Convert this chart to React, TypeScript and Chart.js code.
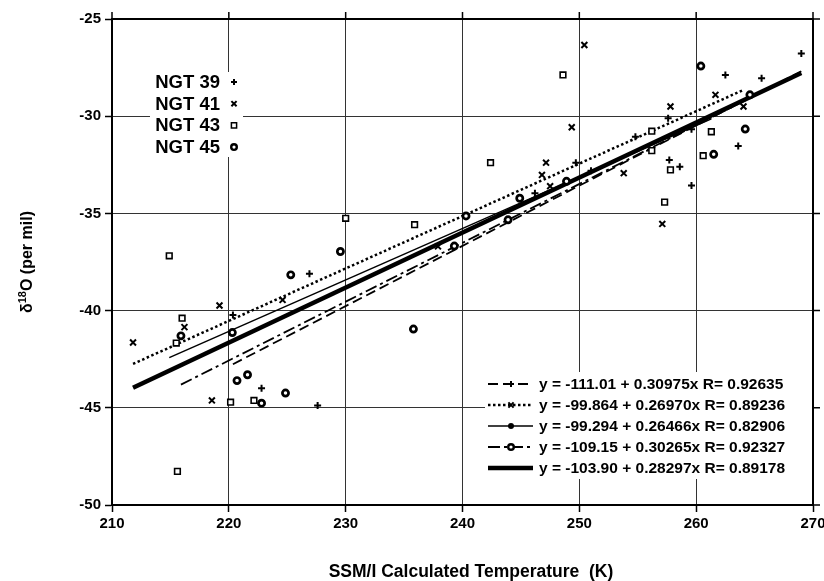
import React, { useEffect, useRef } from "react";
import { Chart, registerables } from "chart.js";

Chart.register(...registerables);

const FONT = '"Liberation Sans", Arial, Helvetica, sans-serif';

// ---- data ----
const xTicks = [210, 220, 230, 240, 250, 260, 270];
const yTicks = [-25, -30, -35, -40, -45, -50];

const seriesNames = ["NGT 39", "NGT 41", "NGT 43", "NGT 45"];

const ngt39X = [220.35, 222.8, 226.9, 227.6, 246.2, 249.7, 251.0, 254.8, 257.6, 257.7, 258.6, 259.6, 259.6, 262.5, 263.6, 265.6, 269.0];
const ngt39Y = [-40.22, -43.99, -38.1, -44.88, -33.96, -32.4, -32.8, -31.06, -30.1, -32.25, -32.6, -30.67, -33.57, -27.88, -31.53, -28.05, -26.77];

const ngt41X = [211.8, 216.2, 218.55, 219.2, 224.6, 237.9, 246.8, 247.15, 247.5, 249.35, 250.43, 253.8, 257.1, 257.8, 261.65, 264.05];
const ngt41Y = [-41.64, -40.85, -44.62, -39.74, -39.45, -36.7, -33.02, -32.39, -33.6, -30.57, -26.34, -32.93, -35.54, -29.5, -28.9, -29.5];

const ngt43X = [214.9, 215.5, 215.6, 216.0, 220.15, 222.15, 230.0, 235.9, 242.4, 248.6, 256.2, 256.2, 257.3, 257.8, 260.6, 261.3];
const ngt43Y = [-37.18, -41.67, -48.27, -40.39, -44.71, -44.62, -35.25, -35.58, -32.39, -27.88, -30.77, -31.77, -34.42, -32.76, -32.03, -30.8];

const ngt45X = [215.9, 220.3, 220.7, 221.6, 222.8, 224.85, 225.3, 229.55, 235.8, 239.3, 240.3, 243.9, 244.9, 248.9, 260.4, 261.5, 264.2, 264.6];
const ngt45Y = [-41.3, -41.13, -43.6, -43.3, -44.76, -44.24, -38.16, -36.96, -40.95, -36.68, -35.13, -35.33, -34.22, -33.35, -27.42, -31.96, -30.66, -28.9];

// regression fits (NGT 39, NGT 41, NGT 43, NGT 45, all)
const fitIntercepts = ["-111.01", "-99.864", "-99.294", "-109.15", "-103.90"];
const fitSlopes = ["0.30975", "0.26970", "0.26466", "0.30265", "0.28297"];
const fitR = ["0.92635", "0.89236", "0.82906", "0.92327", "0.89178"];

const xTitle = "SSM/I Calculated Temperature  (K)";
const yTitleParts = ["δ", "18", "O (per mil)"];

// ---- helpers ----
const seriesX = [ngt39X, ngt41X, ngt43X, ngt45X];
const seriesY = [ngt39Y, ngt41Y, ngt43Y, ngt45Y];
const allX = ([] as number[]).concat(ngt39X, ngt41X, ngt43X, ngt45X);
const fitRanges = [...seriesX, allX].map((xs) => [Math.min(...xs), Math.max(...xs)]);

const toPts = (xs: number[], ys: number[]) => xs.map((x, i) => ({ x, y: ys[i] }));

const fitLine = (i: number) => {
  const a = parseFloat(fitIntercepts[i]);
  const b = parseFloat(fitSlopes[i]);
  const [x0, x1] = fitRanges[i];
  return [
    { x: x0, y: a + b * x0 },
    { x: x1, y: a + b * x1 },
  ];
};

const lineStyles = [
  { dash: [10, 5], width: 1.8 },
  { dash: [2.5, 2.5], width: 2.5 },
  { dash: [], width: 1.5 },
  { dash: [12, 4, 3, 4], width: 1.8 },
  { dash: [], width: 4.5 },
];

function marker(ctx: CanvasRenderingContext2D, kind: string, x: number, y: number) {
  ctx.save();
  ctx.setLineDash([]);
  ctx.strokeStyle = "#000";
  ctx.fillStyle = "#fff";
  ctx.beginPath();
  if (kind === "cross") {
    ctx.lineWidth = 2;
    ctx.moveTo(x - 3, y);
    ctx.lineTo(x + 3, y);
    ctx.moveTo(x, y - 3);
    ctx.lineTo(x, y + 3);
    ctx.stroke();
  } else if (kind === "crossRot") {
    ctx.lineWidth = 2;
    ctx.moveTo(x - 2.6, y - 2.6);
    ctx.lineTo(x + 2.6, y + 2.6);
    ctx.moveTo(x + 2.6, y - 2.6);
    ctx.lineTo(x - 2.6, y + 2.6);
    ctx.stroke();
  } else if (kind === "rect") {
    ctx.lineWidth = 1.5;
    ctx.rect(x - 2.6, y - 2.6, 5.2, 5.2);
    ctx.fill();
    ctx.stroke();
  } else if (kind === "circle") {
    ctx.lineWidth = 2.4;
    ctx.arc(x, y, 2.8, 0, Math.PI * 2);
    ctx.fill();
    ctx.stroke();
  } else if (kind === "dot") {
    ctx.fillStyle = "#000";
    ctx.arc(x, y, 3, 0, Math.PI * 2);
    ctx.fill();
  }
  ctx.restore();
}

const overlay = {
  id: "overlay",
  afterDraw(chart: any) {
    const ctx: CanvasRenderingContext2D = chart.ctx;
    const xs = chart.scales.x;
    const ys = chart.scales.y;
    const { left, right, top, bottom } = chart.chartArea;
    ctx.save();

    // top / right frame with outward ticks
    ctx.strokeStyle = "#000";
    ctx.lineWidth = 2;
    ctx.beginPath();
    ctx.moveTo(left - 1, top);
    ctx.lineTo(right, top);
    ctx.lineTo(right, bottom + 1);
    ctx.stroke();
    ctx.lineWidth = 1.5;
    ctx.beginPath();
    xTicks.forEach((v) => {
      const px = xs.getPixelForValue(v);
      ctx.moveTo(px, top);
      ctx.lineTo(px, top - 7);
    });
    yTicks.forEach((v) => {
      const py = ys.getPixelForValue(v);
      ctx.moveTo(right, py);
      ctx.lineTo(right + 7, py);
    });
    ctx.stroke();

    // top-left legend
    ctx.fillStyle = "#fff";
    ctx.fillRect(150, 72, 93, 85);
    ctx.fillStyle = "#000";
    ctx.font = `bold 18.5px ${FONT}`;
    ctx.textAlign = "right";
    ctx.textBaseline = "middle";
    const kinds = ["cross", "crossRot", "rect", "circle"];
    seriesNames.forEach((n, i) => {
      const yy = 82 + i * 21.7;
      ctx.fillStyle = "#000";
      ctx.fillText(n, 220, yy + 1);
      marker(ctx, kinds[i], 234, yy);
    });

    // bottom-right fit legend
    ctx.fillStyle = "#fff";
    ctx.fillRect(485, 372, right - 486, 107);
    ctx.font = `bold 15.5px ${FONT}`;
    ctx.textAlign = "left";
    const legendMarkers = ["cross", "crossRot", "dot", "circle", ""];
    fitIntercepts.forEach((a, i) => {
      const yy = 384 + i * 21;
      const st = lineStyles[i];
      ctx.save();
      ctx.strokeStyle = "#000";
      ctx.lineWidth = st.width;
      ctx.setLineDash(st.dash);
      ctx.beginPath();
      ctx.moveTo(488, yy);
      ctx.lineTo(533, yy);
      ctx.stroke();
      ctx.restore();
      if (legendMarkers[i]) marker(ctx, legendMarkers[i], 511, yy);
      ctx.fillStyle = "#000";
      ctx.fillText(`y = ${a} + ${fitSlopes[i]}x R= ${fitR[i]}`, 539, yy + 1);
    });

    // x axis title
    ctx.font = `bold 17.5px ${FONT}`;
    ctx.textAlign = "center";
    ctx.textBaseline = "alphabetic";
    ctx.fillText(xTitle, 471, 577);

    // y axis title (rotated, with superscript)
    ctx.save();
    ctx.translate(32, 262);
    ctx.rotate(-Math.PI / 2);
    const big = `bold 16px ${FONT}`;
    const small = `bold 11px ${FONT}`;
    ctx.font = big;
    const w1 = ctx.measureText(yTitleParts[0]).width;
    const w3 = ctx.measureText(yTitleParts[2]).width;
    ctx.font = small;
    const w2 = ctx.measureText(yTitleParts[1]).width;
    const start = -(w1 + w2 + w3) / 2;
    ctx.textAlign = "left";
    ctx.font = big;
    ctx.fillText(yTitleParts[0], start, 0);
    ctx.font = small;
    ctx.fillText(yTitleParts[1], start + w1, -6);
    ctx.font = big;
    ctx.fillText(yTitleParts[2], start + w1 + w2, 0);
    ctx.restore();

    ctx.restore();
  },
};

export default function App() {
  const ref = useRef<HTMLCanvasElement | null>(null);

  useEffect(() => {
    if (!ref.current) return;
    const pointStyles = ["cross", "crossRot", "rect", "circle"];
    const radii = [3.5, 4.2, 4, 3.1];
    const bws = [2, 2, 1.6, 2.7];
    const scatterSets = seriesNames.map((n, i) => ({
      label: n,
      data: toPts(seriesX[i], seriesY[i]),
      showLine: false,
      pointStyle: pointStyles[i],
      pointRadius: radii[i],
      pointBorderWidth: bws[i],
      pointBorderColor: "#000",
      pointBackgroundColor: "#fff",
      borderColor: "#000",
      backgroundColor: "#fff",
    }));
    const lineSets = fitIntercepts.map((_, i) => ({
      label: `fit ${i}`,
      data: fitLine(i),
      showLine: true,
      pointRadius: 0,
      borderColor: "#000",
      borderWidth: lineStyles[i].width,
      borderDash: lineStyles[i].dash,
      borderCapStyle: "butt",
      fill: false,
    }));

    const tickFont = { family: FONT, size: 15, weight: "bold" as const };
    const chart = new Chart(ref.current, {
      type: "scatter",
      data: { datasets: [...scatterSets, ...lineSets] as any },
      options: {
        responsive: false,
        animation: false,
        layout: { padding: { top: 19, right: 11, left: 0, bottom: 0 } },
        plugins: { legend: { display: false }, tooltip: { enabled: false } },
        scales: {
          x: {
            type: "linear",
            min: 210,
            max: 270,
            afterFit: (s: any) => {
              s.height = 76;
              s.paddingLeft = 0;
              s.paddingRight = 0;
            },
            ticks: { stepSize: 10, color: "#000", font: tickFont, padding: 3, maxRotation: 0 },
            grid: { color: "#333", lineWidth: 1, tickLength: 7, tickColor: "#000", tickWidth: 1.5 },
            border: { color: "#000", width: 2 },
          },
          y: {
            type: "linear",
            min: -50,
            max: -25,
            afterFit: (s: any) => {
              s.width = 112;
              s.paddingTop = 0;
              s.paddingBottom = 0;
            },
            ticks: { stepSize: 5, color: "#000", font: tickFont, padding: 4 },
            grid: { color: "#333", lineWidth: 1, tickLength: 7, tickColor: "#000", tickWidth: 1.5 },
            border: { color: "#000", width: 2 },
          },
        },
      } as any,
      plugins: [overlay],
    });
    return () => chart.destroy();
  }, []);

  return (
    <div style={{ position: "absolute", left: 0, top: 0, width: 824, height: 581, background: "#fff" }}>
      <canvas ref={ref} width={824} height={581} style={{ width: 824, height: 581, display: "block" }} />
    </div>
  );
}
